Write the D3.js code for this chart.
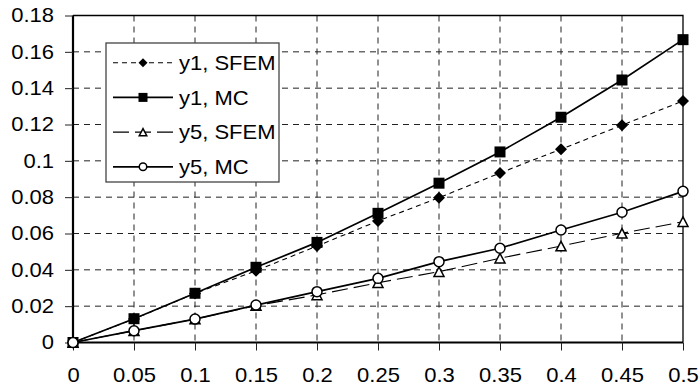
<!DOCTYPE html>
<html>
<head>
<meta charset="utf-8">
<script src="https://cdn.jsdelivr.net/npm/d3@7"></script>
<style>
	body { margin: 0; background: #fff; }
	svg { display: block; font-family: "Liberation Sans", Arial, sans-serif; }
</style>
</head>
<body>
<div id="chart"></div>
<script>
'use strict';

// values
const xValues = [0, 0.05, 0.1, 0.15, 0.2, 0.25, 0.3, 0.35, 0.4, 0.45, 0.5];
const y1Sfem = [0, 0.013, 0.027, 0.0395, 0.0531, 0.0669, 0.0797, 0.0933, 0.1064, 0.1196, 0.133];
const y1Mc   = [0, 0.0131, 0.0271, 0.0414, 0.0551, 0.0711, 0.0877, 0.1049, 0.124, 0.1445, 0.1667];
const y5Sfem = [0, 0.0065, 0.0129, 0.0203, 0.0262, 0.0329, 0.039, 0.0464, 0.0531, 0.0601, 0.0665];
const y5Mc   = [0, 0.0065, 0.0129, 0.0206, 0.028, 0.0353, 0.0445, 0.0519, 0.0619, 0.0717, 0.0832];
const xTicks = [0, 0.05, 0.1, 0.15, 0.2, 0.25, 0.3, 0.35, 0.4, 0.45, 0.5];
const yTicks = [0, 0.02, 0.04, 0.06, 0.08, 0.1, 0.12, 0.14, 0.16, 0.18];
const seriesNames = ["y1, SFEM", "y1, MC", "y5, SFEM", "y5, MC"];

const width = 699, height = 391;
const margin = { top: 15.5, right: 16, bottom: 48.5, left: 73 };
const stretch = 1.1; // text in the picture is a bit wide

const series = [
	{ name: seriesNames[0], values: y1Sfem, marker: "diamond", dash: "5,4", sw: 1.1 },
	{ name: seriesNames[1], values: y1Mc, marker: "square", dash: null, sw: 1.7 },
	{ name: seriesNames[2], values: y5Sfem, marker: "triangle", dash: "16,6", sw: 1.1 },
	{ name: seriesNames[3], values: y5Mc, marker: "circle", dash: null, sw: 1.7 }
];

const svg = d3.select("#chart")
	.append("svg")
		.attr("width", width)
		.attr("height", height);

const x = d3.scaleLinear()
	.domain([0, 0.5])
	.range([margin.left, width - margin.right]);

const y = d3.scaleLinear()
	.domain([0, 0.18])
	.range([height - margin.bottom, margin.top]);

// stretch a text element horizontally about its own anchor x
function widen(sel) {
	sel.each(function() {
		const ax = +d3.select(this).attr("x") || 0;
		d3.select(this).attr("transform",
			`translate(${ax},0) scale(${stretch},1) translate(${-ax},0)`);
	});
}

// grid
svg.append("g")
	.selectAll("line")
	.data(xTicks.slice(1, -1))
	.join("line")
		.attr("x1", d => x(d)).attr("x2", d => x(d))
		.attr("y1", y(0.18)).attr("y2", y(0))
		.attr("stroke", "#222")
		.attr("stroke-width", 1)
		.attr("stroke-dasharray", "6,5");

svg.append("g")
	.selectAll("line")
	.data(yTicks.slice(1, -1))
	.join("line")
		.attr("x1", x(0)).attr("x2", x(0.5))
		.attr("y1", d => y(d)).attr("y2", d => y(d))
		.attr("stroke", "#222")
		.attr("stroke-width", 1)
		.attr("stroke-dasharray", "6,5");

// top and right border
svg.append("path")
	.attr("d", `M${x(0)},${y(0.18)}H${x(0.5)}V${y(0)}`)
	.attr("fill", "none")
	.attr("stroke", "#000")
	.attr("stroke-width", 1.3);

// axes
const xAxis = svg.append("g")
	.attr("transform", `translate(0,${y(0)})`)
	.call(d3.axisBottom(x).tickValues(xTicks).tickSize(8).tickPadding(17)
		.tickFormat(d3.format("~g")));

const yAxis = svg.append("g")
	.attr("transform", `translate(${x(0)},0)`)
	.call(d3.axisLeft(y).tickValues(yTicks).tickSize(8).tickPadding(11)
		.tickFormat(d3.format("~g")));

[xAxis, yAxis].forEach(a => {
	a.select(".domain").attr("stroke", "#000").attr("stroke-width", 2.2);
	a.selectAll(".tick line").attr("stroke", "#222").attr("stroke-width", 1);
	a.selectAll(".tick text")
		.attr("fill", "#000")
		.attr("font-size", 20)
		.attr("font-family", "Liberation Sans, Arial, sans-serif")
		.call(widen);
});
// keep only the outer tick marks (outside the plot)
xAxis.select(".domain").attr("d", `M${x(0)},0H${x(0.5)}`);
yAxis.select(".domain").attr("d", `M0,${y(0)}V${y(0.18)}`);

// markers
function drawMarker(g, type, cx, cy, s) {
	if (type === "diamond") {
		g.append("path")
			.attr("d", `M${cx},${cy - s / 2}L${cx + s / 2},${cy}L${cx},${cy + s / 2}L${cx - s / 2},${cy}Z`)
			.attr("fill", "#000");
	} else if (type === "square") {
		g.append("rect")
			.attr("x", cx - s / 2).attr("y", cy - s / 2)
			.attr("width", s).attr("height", s)
			.attr("fill", "#000");
	} else if (type === "triangle") {
		const h = s * 0.95;
		g.append("path")
			.attr("d", `M${cx},${cy - h / 2}L${cx + s / 2},${cy + h / 2}L${cx - s / 2},${cy + h / 2}Z`)
			.attr("fill", "#fff")
			.attr("stroke", "#000")
			.attr("stroke-width", 1.5);
	} else {
		g.append("circle")
			.attr("cx", cx).attr("cy", cy).attr("r", s / 2)
			.attr("fill", "#fff")
			.attr("stroke", "#000")
			.attr("stroke-width", 1.5);
	}
}

const line = d3.line()
	.x((d, i) => x(xValues[i]))
	.y(d => y(d));

const plot = svg.append("g");
series.forEach(s => {
	plot.append("path")
		.datum(s.values)
		.attr("d", line)
		.attr("fill", "none")
		.attr("stroke", "#000")
		.attr("stroke-width", s.sw)
		.attr("stroke-dasharray", s.dash);
});
series.forEach(s => {
	const g = plot.append("g");
	const size = s.marker === "diamond" ? 12 : s.marker === "square" ? 11 : 10;
	s.values.forEach((v, i) => drawMarker(g, s.marker, x(xValues[i]), y(v), size));
});

// legend
const legend = svg.append("g").attr("transform", "translate(106,43)");
legend.append("rect")
	.attr("x", 0).attr("y", 0)
	.attr("width", 173).attr("height", 139)
	.attr("fill", "#fff")
	.attr("stroke", "#444")
	.attr("stroke-width", 1.3);

series.forEach((s, i) => {
	const cy = 19.7 + i * 34.7;
	const row = legend.append("g");
	row.append("line")
		.attr("x1", 7).attr("x2", 67)
		.attr("y1", cy).attr("y2", cy)
		.attr("stroke", "#000")
		.attr("stroke-width", s.sw)
		.attr("stroke-dasharray", s.dash);
	const size = s.marker === "diamond" ? 9 : s.marker === "square" ? 9 : 7.5;
	drawMarker(row, s.marker, 37, cy, size);
	row.append("text")
		.attr("x", 73)
		.attr("y", cy)
		.attr("dy", "0.36em")
		.attr("font-size", 20)
		.attr("fill", "#000")
		.text(s.name)
		.call(widen);
});
</script>
</body>
</html>
